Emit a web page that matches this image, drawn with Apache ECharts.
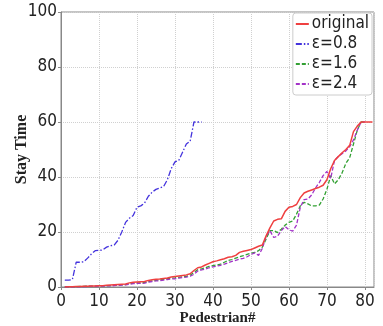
<!DOCTYPE html>
<html><head><meta charset="utf-8">
<script src="https://cdn.jsdelivr.net/npm/echarts@6/dist/echarts.min.js"></script>
<style>html,body{margin:0;padding:0;background:#fff}#c{width:383px;height:326px}</style>
</head><body><div id="c"></div>
<script>
// Stay time per pedestrian index (1-based)
const original = [0,0.1,0.1,0.2,0.2,0.3,0.3,0.4,0.4,0.5,0.5,0.6,0.7,0.8,0.9,1.0,1.1,1.5,1.7,1.8,1.9,2.0,2.4,2.6,2.8,2.9,3.1,3.3,3.6,3.8,4.0,4.2,4.4,4.8,6.0,7.0,7.3,8.0,8.6,9.2,9.5,9.9,10.3,10.8,11.0,11.5,12.6,13.0,13.3,13.6,14.2,14.8,15.3,18.6,21.5,24.0,24.6,24.8,27.5,29.0,29.3,30.0,32.5,34.2,34.8,35.3,35.8,36.3,37.0,39.0,43.0,46.0,47.4,48.8,50.0,51.5,56.5,58.5,60,60,60,60];
const eps08 = [2.5,2.5,2.7,9,9,9.2,10.5,12,13.2,13.3,13.5,14.5,15,15.2,17,20,23.5,25,26,29,29.5,30.5,33,34.5,35.5,36,36.5,39,43,45.5,46,49,52,53,60,60,60];
const eps16 = [0,0,0.1,0.1,0.2,0.2,0.3,0.3,0.3,0.4,0.4,0.5,0.5,0.6,0.7,0.8,0.9,1.2,1.4,1.5,1.5,1.6,2.0,2.2,2.4,2.6,2.8,3.0,3.2,3.3,3.5,3.7,3.9,4.3,5.3,6.3,6.6,7.0,7.5,7.8,8.0,8.3,9.0,9.6,10.0,10.5,11.0,11.4,11.9,12.3,12.6,13.2,14.5,17.5,20.5,20.5,19.8,21.0,22.5,23.5,24.0,26.5,29.5,30.8,30.2,29.5,29.5,29.8,32.0,35.5,40.5,37.5,39.0,41.5,45.0,47.0,52.0,57.0,60,60];
const eps24 = [0,0,0,0.1,0.1,0.1,0.2,0.2,0.2,0.3,0.3,0.4,0.4,0.5,0.6,0.7,0.8,1.0,1.2,1.3,1.3,1.4,1.8,2.0,2.2,2.3,2.5,2.7,2.9,3.0,3.2,3.4,3.6,3.9,4.6,5.8,6.2,6.5,7.0,7.3,7.6,7.9,8.3,8.8,9.3,9.7,10.1,10.4,11.0,11.8,12.4,11.5,14.0,18.5,20.5,18.0,18.5,20.5,22.0,20.8,20.3,22.5,29.0,31.8,32.0,33.5,36.0,38.0,40.5,42.0,39.5,46.0,47.5,48.5,49.5,51.0,53.5,57.0,60,60];
const seriesNames = ['original','ε=0.8','ε=1.6','ε=2.4'];
const yTicks = [0,20,40,60,80,100];
const xTicks = [0,10,20,30,40,50,60,70,80];

const pair = arr => arr.map((v,i)=>[i+1,v]);
const narrow = "'Liberation Sans Narrow','DejaVu Sans Condensed',sans-serif";
const serif = "'Liberation Serif','DejaVu Serif',serif";

const chart = echarts.init(document.getElementById('c'), null, {renderer:'canvas'});
chart.setOption({
  animation:false,
  backgroundColor:'#fff',
  grid:{left:61,right:9,top:12,bottom:39,containLabel:false,outerBoundsMode:'none',
    show:true,borderColor:'#888',borderWidth:1},
  legend:{
    right:11, top:13, orient:'vertical', itemWidth:13, itemHeight:12, itemGap:2,
    padding:[2,3,2,2], backgroundColor:'#fff', borderColor:'#ccc', borderWidth:1, borderRadius:3,
    itemStyle:{opacity:0},
    textStyle:{fontFamily:narrow,fontSize:17,color:'#222',lineHeight:18,padding:[0,0,0,-2]},
    data:seriesNames
  },
  xAxis:{
    type:'value', min:0, max:82.4, interval:10,
    name:'Pedestrian#', nameLocation:'middle', nameGap:24, nameMoveOverlap:false,
    nameTextStyle:{fontFamily:serif,fontWeight:'bold',fontSize:15,color:'#222'},
    axisLine:{show:true,lineStyle:{color:'#888'}},
    axisTick:{show:true,length:3,lineStyle:{color:'#888'}},
    axisLabel:{fontFamily:narrow,fontSize:17,color:'#222',margin:6,showMaxLabel:false,
      formatter:v=>xTicks.includes(v)?String(v):''},
    splitLine:{show:true,lineStyle:{color:'#d0d0d0',type:'dotted'}}
  },
  yAxis:{
    type:'value', min:0, max:100, interval:20,
    name:'Stay Time', nameLocation:'middle', nameGap:31, nameMoveOverlap:false,
    nameTextStyle:{fontFamily:serif,fontWeight:'bold',fontSize:16,color:'#222'},
    axisLine:{show:true,lineStyle:{color:'#888'}},
    axisTick:{show:true,length:3,lineStyle:{color:'#888'}},
    axisLabel:{fontFamily:narrow,fontSize:17,color:'#222',margin:4,
      formatter:v=>yTicks.includes(v)?String(v):''},
    splitLine:{show:true,lineStyle:{color:'#d0d0d0',type:'dotted'}}
  },
  series:[
    {name:seriesNames[0],type:'line',data:pair(original),showSymbol:false,symbol:'none',z:4,
      itemStyle:{color:'#ef4040'},lineStyle:{color:'#ef4040',width:1.5,type:'solid'}},
    {name:seriesNames[1],type:'line',data:pair(eps08),showSymbol:false,symbol:'none',z:3,
      itemStyle:{color:'#4433dd'},lineStyle:{color:'#4433dd',width:1.3,type:[6,2,1.5,2]}},
    {name:seriesNames[2],type:'line',data:pair(eps16),showSymbol:false,symbol:'none',z:2,
      itemStyle:{color:'#33a033'},lineStyle:{color:'#33a033',width:1.3,type:[4,2]}},
    {name:seriesNames[3],type:'line',data:pair(eps24),showSymbol:false,symbol:'none',z:3,
      itemStyle:{color:'#a333c8'},lineStyle:{color:'#a333c8',width:1.3,type:[4,2]}}
  ]
});
</script></body></html>
